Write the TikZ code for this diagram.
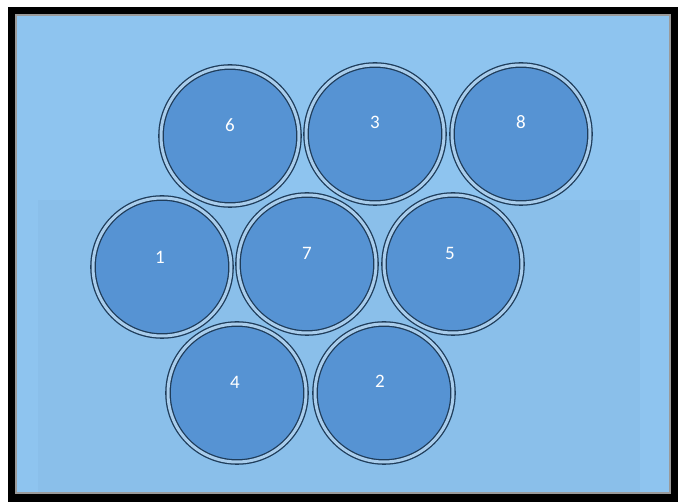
\documentclass[tikz,border=0pt]{standalone}
\usepackage{fontspec}
\setsansfont{Carlito}
\usetikzlibrary{positioning}
\definecolor{skyblue}{HTML}{8EC4EF}
\definecolor{photoblue}{HTML}{8ABFEA}
\definecolor{cellblue}{HTML}{5693D3}
\definecolor{ringlight}{HTML}{A9CDEC}
\definecolor{ringdark}{HTML}{1E3C5A}
\definecolor{framegray}{HTML}{9A9A9A}

\begin{document}
\begin{tikzpicture}[
  x=1pt, y=-1pt,
  cell/.style={
    circle, draw=ringdark, line width=1.3pt, double=ringlight,
    double distance=3pt, fill=cellblue, minimum size=138pt, inner sep=0pt
  },
  num/.style={
    text=white, font=\sffamily\fontsize{19}{21}\selectfont, inner sep=0pt
  }
]
\useasboundingbox (0,0) rectangle (678,502);
% frame and background
\fill[white] (0,0) rectangle (678,502);
\fill[black] (8,7) rectangle (678,502);
\fill[skyblue] (17,16) rectangle (669,492);
\fill[photoblue] (38,200) rectangle (640,492);
\draw[framegray, line width=1.5pt] (16,15) rectangle (670,493);

% top row
\node[cell] (c6) at (230,136) {};
\node[cell] (c3) at (375,134) {};
\node[cell] (c8) at (521,134) {};
% middle row
\node[cell] (c1) at (162,267) {};
\node[cell] (c7) at (307,264) {};
\node[cell] (c5) at (453,264) {};
% bottom row
\node[cell] (c4) at (237,393) {};
\node[cell] (c2) at (384,393) {};

% numbers
\node[num] (n6) at ([yshift=11pt]c6.center) {6};
\node[num] (n3) at ([yshift=12pt]c3.center) {3};
\node[num] (n8) at ([yshift=12pt]c8.center) {8};
\node[num] (n1) at ([yshift=10pt,xshift=-2pt]c1.center) {1};
\node[num] (n7) at ([yshift=11pt]c7.center) {7};
\node[num] (n5) at ([yshift=11pt,xshift=-3pt]c5.center) {5};
\node[num] (n4) at ([yshift=11pt,xshift=-2pt]c4.center) {4};
\node[num] (n2) at ([yshift=12pt,xshift=-4pt]c2.center) {2};
\end{tikzpicture}
\end{document}
